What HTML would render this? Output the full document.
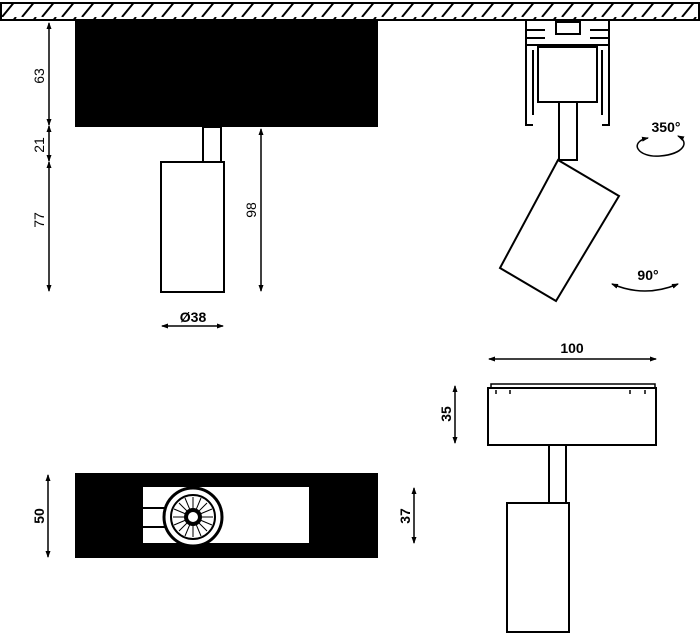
<!DOCTYPE html>
<html><head><style>html,body{margin:0;padding:0;background:#fff}svg{display:block}text{font-family:"Liberation Sans",sans-serif;font-size:14px;fill:#000}</style></head>
<body>
<svg width="700" height="634" viewBox="0 0 700 634" xmlns="http://www.w3.org/2000/svg">
<defs>
<pattern id="h" width="20" height="17" patternUnits="userSpaceOnUse"><line x1="2" y1="17" x2="16" y2="0" stroke="#000" stroke-width="2"/></pattern>
<marker id="a" markerUnits="userSpaceOnUse" markerWidth="7" markerHeight="6" refX="6" refY="3" orient="auto-start-reverse"><path d="M0,0.5L7,3L0,5.5z" fill="#000"/></marker>
</defs>
<rect x="1" y="3" width="698" height="17" fill="url(#h)" stroke="#000" stroke-width="2"/>
<!-- top-left -->
<rect x="75" y="20" width="303" height="107" fill="#000"/>
<rect x="203" y="127" width="18" height="35" fill="#fff" stroke="#000" stroke-width="2"/>
<rect x="161" y="162" width="63" height="130" fill="#fff" stroke="#000" stroke-width="2"/>
<g stroke="#000" stroke-width="1.5" marker-start="url(#a)" marker-end="url(#a)">
<line x1="49" y1="23" x2="49" y2="125"/><line x1="49" y1="126" x2="49" y2="161"/><line x1="49" y1="162" x2="49" y2="291"/>
<line x1="261" y1="129" x2="261" y2="291"/><line x1="162" y1="326" x2="223" y2="326"/>
<line x1="29" y1="475" x2="29" y2="557" transform="translate(19,0)"/><line x1="414" y1="488" x2="414" y2="543"/>
<line x1="489" y1="359" x2="656" y2="359"/><line x1="455" y1="386" x2="455" y2="443"/>
</g>
<text transform="translate(44,76) rotate(-90)" text-anchor="middle">63</text>
<text transform="translate(44,145) rotate(-90)" text-anchor="middle">21</text>
<text transform="translate(44,220) rotate(-90)" text-anchor="middle">77</text>
<text transform="translate(256,210) rotate(-90)" text-anchor="middle">98</text>
<text x="193" y="322" text-anchor="middle" font-weight="bold">Ø38</text>
<!-- top-right -->
<g fill="none" stroke="#000" stroke-width="2">
<path d="M526,20V125H533M609,20V125H602"/>
<path d="M526,30H545M526,38H545M590,30H609M590,38H609M526,45H609"/>
<rect x="556" y="22" width="24" height="12"/>
<path d="M533,50V115M602,50V115"/>
</g>
<rect x="538" y="47" width="59" height="55" fill="#fff" stroke="#000" stroke-width="2"/>
<rect x="559" y="102" width="18" height="58" fill="#fff" stroke="#000" stroke-width="2"/>
<polygon points="558,160 619,196 556,301 500,268" fill="#fff" stroke="#000" stroke-width="2"/>
<text x="666" y="132" text-anchor="middle" font-weight="bold">350°</text>
<path d="M648,138 C628,142 638,158 660,156 C684,154 690,142 678,136" fill="none" stroke="#000" stroke-width="1.5" marker-start="url(#a)" marker-end="url(#a)"/>
<text x="648" y="280" text-anchor="middle" font-weight="bold">90°</text>
<path d="M612,284 Q645,298 678,284" fill="none" stroke="#000" stroke-width="1.5" marker-start="url(#a)" marker-end="url(#a)"/>
<!-- bottom-left -->
<rect x="75" y="473" width="303" height="85" fill="#000"/>
<rect x="143" y="487" width="166" height="56" fill="#fff"/>
<path d="M143,508H168M143,527H168" stroke="#000" stroke-width="2"/>
<circle cx="193" cy="517" r="29" fill="#fff" stroke="#000" stroke-width="3"/>
<circle cx="193" cy="517" r="22" fill="#fff" stroke="#000" stroke-width="2"/>
<g stroke="#000" stroke-width="1">
<path d="M193,497V537M173,517H213M179,503L207,531M207,503L179,531M185,498L201,536M201,498L185,536M174,509L212,525M174,525L212,509"/>
</g>
<circle cx="193" cy="517" r="9" fill="#000"/>
<circle cx="193" cy="517" r="5" fill="#fff"/>
<text transform="translate(44,516) rotate(-90)" text-anchor="middle" font-weight="bold">50</text>
<text transform="translate(410,516) rotate(-90)" text-anchor="middle" font-weight="bold">37</text>
<!-- bottom-right -->
<text x="572" y="353" text-anchor="middle" font-weight="bold">100</text>
<text transform="translate(451,414) rotate(-90)" text-anchor="middle" font-weight="bold">35</text>
<rect x="491" y="384" width="164" height="4" fill="#fff" stroke="#000" stroke-width="1.5"/>
<rect x="488" y="388" width="168" height="57" fill="#fff" stroke="#000" stroke-width="2"/>
<g fill="none" stroke="#000" stroke-width="1.5"><path d="M496,390v4M510,390v4M630,390v4M645,390v4"/></g>
<rect x="549" y="445" width="17" height="58" fill="#fff" stroke="#000" stroke-width="2"/>
<rect x="507" y="503" width="62" height="129" fill="#fff" stroke="#000" stroke-width="2"/>
</svg>
</body></html>
